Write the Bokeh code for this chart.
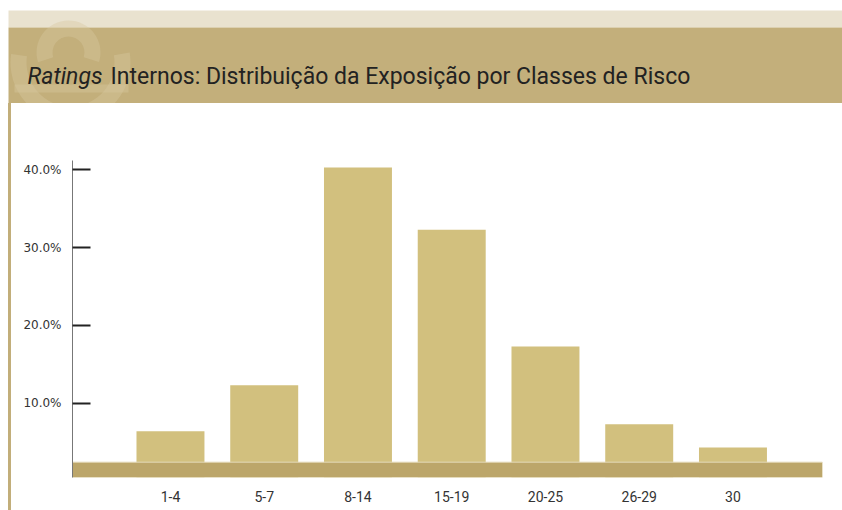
from bokeh.plotting import figure
from bokeh.layouts import column, row
from bokeh.models import Range1d, FixedTicker, PrintfTickFormatter, Spacer
from bokeh.core.properties import value
from bokeh.embed import file_html
from bokeh.resources import INLINE

# ---- data ----
classes = ["1-4", "5-7", "8-14", "15-19", "20-25", "26-29", "30"]
exposure_pct = [6.4, 12.3, 40.3, 32.3, 17.3, 7.3, 4.3]
y_ticks = [10, 20, 30, 40]
title_italic = "Ratings"
title_rest = "Internos: Distribuição da Exposição por Classes de Risco"

LIGHT = "#e9e2cf"
TAN = "#c3af7b"
LOGO = "#d6c9a0"
BAR = "#d2c07e"
BAND = "#bca66a"
STRIP = "#c2ae7a"

W = 842
HH = 103

# ---- header ----
hdr = figure(width=W, height=HH, x_range=Range1d(0, W), y_range=Range1d(0, HH),
             toolbar_location=None, output_backend="svg", min_border=0,
             outline_line_color=None, background_fill_color="white", border_fill_color="white")
hdr.axis.visible = False
hdr.grid.visible = False
hdr.quad(left=[8], right=[W], bottom=[76], top=[93], color=LIGHT, line_color=None)
hdr.quad(left=[8], right=[W], bottom=[0], top=[76], color=TAN, line_color=None)
# faint logo
hdr.annular_wedge(x=[68], y=[HH - 52], inner_radius=16, outer_radius=32, start_angle=-0.3, end_angle=3.45,
                  color=LOGO, alpha=0.4, line_color=None)
hdr.annular_wedge(x=[70], y=[HH - 62], inner_radius=44, outer_radius=60, start_angle=3.0, end_angle=6.45,
                  color=LOGO, alpha=0.4, line_color=None)
hdr.quad(left=[14], right=[128], bottom=[HH - 92], top=[HH - 84], color=LOGO, alpha=0.4, line_color=None)
hdr.text(x=[27], y=[HH - 76], text=[title_italic], text_font=value("Roboto"), text_font_size="23px",
         text_font_style="italic", text_color="#222222", text_baseline="alphabetic")
hdr.text(x=[110], y=[HH - 76], text=[title_rest], text_font=value("Roboto"), text_font_size="23px",
         text_color="#222222", text_baseline="alphabetic")

CH = 510 - HH

# ---- left strip ----
strip = Spacer(width=12, height=CH, styles={
    "background": "linear-gradient(to right, #ffffff 0px, #ffffff 8px, %s 8px, %s 11px, #ffffff 11px)" % (STRIP, STRIP)
})

# ---- chart ----
idx = list(range(len(classes)))
x0, x1 = -1.045, 6.955
y0, y1 = 0.45, 41.2
p = figure(width=W - 12, height=CH, x_range=Range1d(x0, x1), y_range=Range1d(y0, y1),
           toolbar_location=None, output_backend="svg",
           min_border_left=60, min_border_right=20, min_border_top=57, min_border_bottom=33,
           outline_line_color=None, background_fill_color="white", border_fill_color="white")
p.grid.visible = False
p.vbar(x=idx, top=exposure_pct, width=0.725, bottom=0, color=BAR, line_color=None)
p.quad(left=[x0], right=[x1], bottom=[y0], top=[2.42], color=BAND, line_color="#e3d9b8", line_width=1)

p.yaxis.ticker = FixedTicker(ticks=y_ticks)
p.yaxis.formatter = PrintfTickFormatter(format="%.1f%%")
p.yaxis.major_tick_in = 18
p.yaxis.major_tick_out = 0
p.yaxis.major_tick_line_width = 2
p.yaxis.major_tick_line_color = "#222222"
p.yaxis.minor_tick_line_color = None
p.yaxis.axis_line_color = "#777777"
p.yaxis.major_label_text_font = "DejaVu Sans"
p.yaxis.major_label_text_font_size = "12px"
p.yaxis.major_label_text_color = "#333333"
p.yaxis.major_label_standoff = 11

p.xaxis.ticker = FixedTicker(ticks=idx)
p.xaxis.major_label_overrides = {i: c for i, c in zip(idx, classes)}
p.xaxis.axis_line_color = None
p.xaxis.major_tick_line_color = None
p.xaxis.minor_tick_line_color = None
p.xaxis.major_label_text_font = "Roboto"
p.xaxis.major_label_text_font_size = "14px"
p.xaxis.major_label_text_color = "#333333"
p.xaxis.major_label_standoff = 7

layout = column(hdr, row(strip, p))
open("out.html", "w").write(file_html(layout, INLINE))
